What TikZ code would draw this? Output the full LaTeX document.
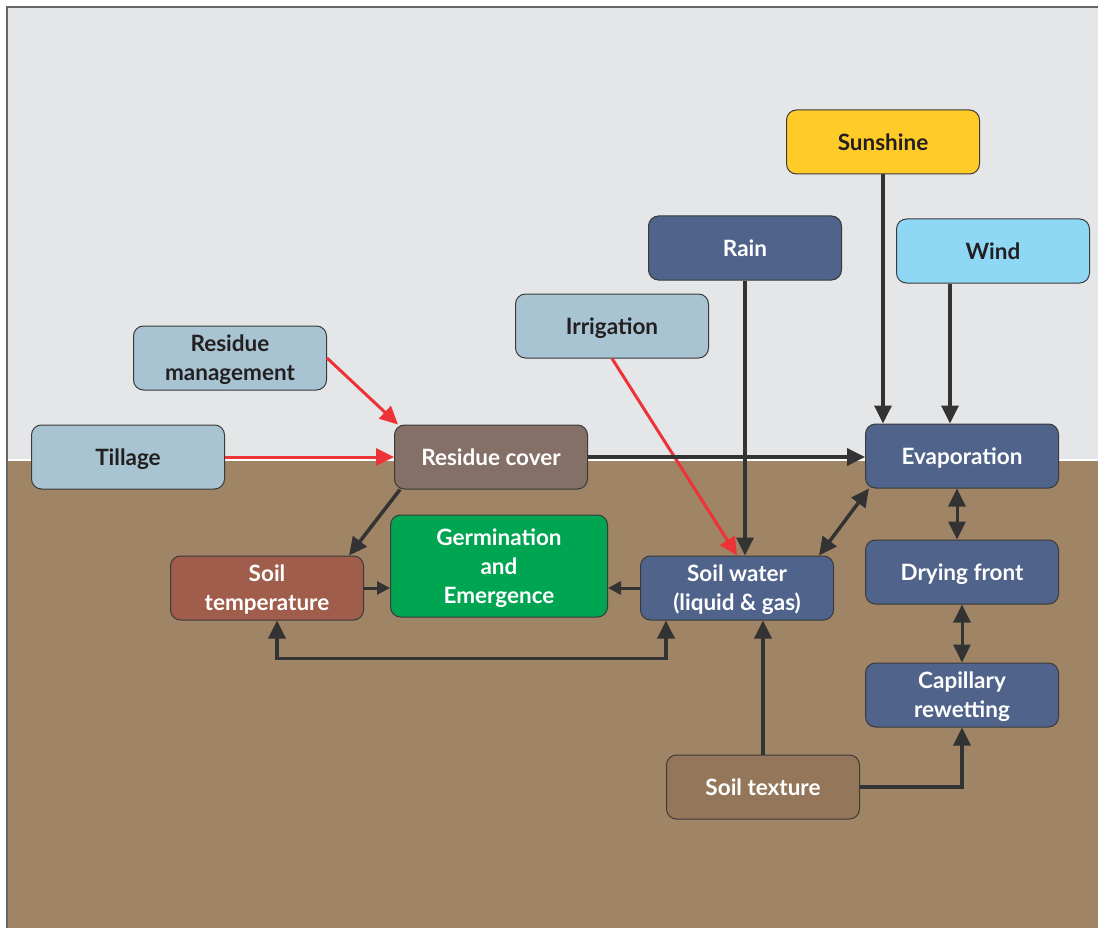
\documentclass[tikz,border=0pt]{standalone}
\usepackage{fontspec}
\setmainfont{Lato}
\usetikzlibrary{arrows.meta}
\definecolor{sky}{HTML}{E5E6E8}
\definecolor{soil}{HTML}{9F8466}
\definecolor{frame}{HTML}{666666}
\definecolor{boxline}{HTML}{3A3A3A}
\definecolor{darktext}{HTML}{231F20}
\definecolor{sunc}{HTML}{FFCB29}
\definecolor{windc}{HTML}{8FD8F5}
\definecolor{mgmtc}{HTML}{A8C4D2}
\definecolor{waterc}{HTML}{4F638B}
\definecolor{coverc}{HTML}{857067}
\definecolor{germc}{HTML}{00A551}
\definecolor{tempc}{HTML}{A15D4C}
\definecolor{texc}{HTML}{94775A}
\definecolor{arrowc}{HTML}{333333}
\definecolor{redc}{HTML}{EE3338}
\begin{document}
\begin{tikzpicture}[x=1pt,y=-1pt,
  box/.style={draw=boxline, line width=1pt, rounded corners=10pt,
    minimum width=193pt, minimum height=64pt, align=center, inner sep=0pt,
    font=\fontsize{22.5}{29}\selectfont\bfseries, text=white,
    text depth=0pt},
  lightbox/.style={box, text=darktext},
  conn/.style={draw=arrowc, line width=3.5pt, -{Triangle[length=18pt,width=17pt]}},
  biconn/.style={draw=arrowc, line width=3.5pt, {Triangle[length=18pt,width=17pt]}-{Triangle[length=18pt,width=17pt]}},
  smallconn/.style={draw=arrowc, line width=3pt, -{Triangle[length=13pt,width=13pt]}},
  redconn/.style={draw=redc, line width=3pt, -{Triangle[length=18pt,width=17pt]}}
]
\useasboundingbox (0,0) rectangle (1098,928);
\fill[sky] (7,7) rectangle (1098,460);
\fill[soil] (7,460) rectangle (1098,928);
\draw[white, line width=1.2pt] (7,460) -- (1098,460);
\draw[frame, line width=1.5pt] (7,928) -- (7,7) -- (1098,7);

\node[lightbox, fill=sunc] (sun) at (883,142) {Sunshine};
\node[lightbox, fill=windc] (wind) at (993,251) {Wind};
\node[box, fill=waterc] (rain) at (745,248) {Rain};
\node[lightbox, fill=mgmtc] (irrig) at (612,326) {Irrigation};
\node[lightbox, fill=mgmtc] (resmgmt) at (230,358) {Residue\\management};
\node[lightbox, fill=mgmtc] (till) at (128,457) {Tillage};
\node[box, fill=coverc] (rescover) at (491,457) {Residue cover};
\node[box, fill=waterc] (evap) at (962,456) {Evaporation};
\node[box, fill=germc, minimum width=217pt, minimum height=102pt] (germ) at (499,566) {Germination\\and\\Emergence};
\node[box, fill=tempc] (soiltemp) at (267,588) {Soil\\temperature};
\node[box, fill=waterc] (soilwater) at (737,588) {Soil water\\(liquid \& gas)};
\node[box, fill=waterc] (dry) at (962,572) {Drying front};
\node[box, fill=waterc] (cap) at (962,695) {Capillary\\rewetting};
\node[box, fill=texc] (tex) at (763,787) {Soil texture};

% red connectors
\draw[redconn] (resmgmt.east) -- ([xshift=4pt]rescover.north west);
\draw[redconn] (till.east) -- (rescover.west);
\draw[redconn] (irrig.south) -- (soilwater.north);

% dark connectors
\draw[conn] (rain.south) -- (rain.south |- soilwater.north);
\draw[conn] (sun.south) -- (sun.south |- evap.north);
\draw[conn] ([xshift=-43pt]wind.south) -- ([xshift=-43pt]wind.south |- evap.north);
\draw[conn] (rescover.east) -- (rescover.east -| evap.west);
\draw[conn] ([xshift=6pt]rescover.south west) -- ([xshift=-15pt]soiltemp.north east);
\draw[smallconn] (soiltemp.east) -- (soiltemp.east -| germ.west);
\draw[smallconn] (soilwater.west) -- (soilwater.west -| germ.east);
\draw[biconn] ([xshift=-15pt]soilwater.north east) -- ([xshift=4pt]evap.south west);
\draw[biconn, line width=3pt] ([xshift=-5pt]evap.south) -- ([xshift=-5pt]dry.north);
\draw[biconn, line width=3pt] (dry.south) -- (cap.north);
\draw[conn] (tex.north) -- (tex.north |- soilwater.south);
\draw[conn] (tex.east) -| (cap.south);
\coordinate (loopL) at ([xshift=10pt, yshift=-38pt]soiltemp.south);
\draw[biconn] ([xshift=10pt]soiltemp.south) -- (loopL) -| ([xshift=-71pt]soilwater.south);
\end{tikzpicture}
\end{document}
